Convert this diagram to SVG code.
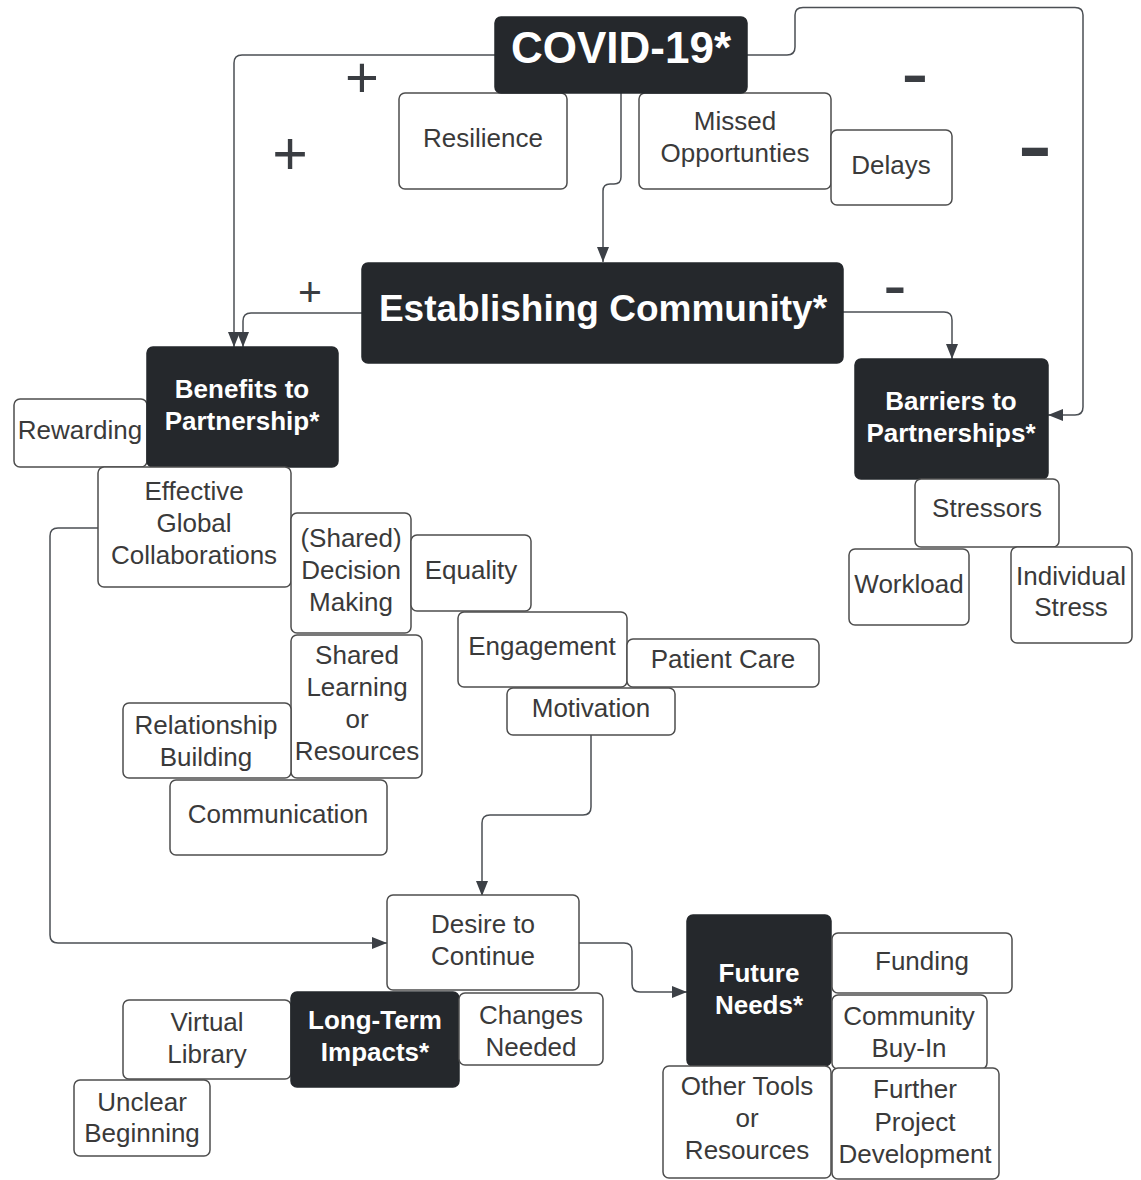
<svg xmlns="http://www.w3.org/2000/svg" width="1141" height="1180" viewBox="0 0 1141 1180">
<defs>
<marker id="arr" markerUnits="userSpaceOnUse" markerWidth="15" markerHeight="12" refX="15" refY="6" orient="auto">
<path d="M0,0 L15,6 L0,12 z" fill="#3c4046"/>
</marker>
<style>
.box{fill:#fff;stroke:#4d4d4d;stroke-width:1.5}
.dark{fill:#25282c;stroke:#25282c;stroke-width:1.5}
.t{font-family:"Liberation Sans",Arial,sans-serif;font-size:26px;fill:#3a3a3a;text-anchor:middle}
.w{font-family:"Liberation Sans",Arial,sans-serif;font-size:26px;font-weight:bold;fill:#fff;text-anchor:middle}
.big{font-size:44px}
.mid{font-size:37px}
.c{fill:none;stroke:#4b4f54;stroke-width:1.5}
.sign{font-family:"Liberation Sans",Arial,sans-serif;fill:#3a3d42;text-anchor:middle}
</style>
</defs>
<rect width="1141" height="1180" fill="#fff"/>
<g id="connectors">
<path class="c" d="M495,55 H242 Q234,55 234,63 V347" marker-end="url(#arr)"/>
<path class="c" d="M621,93 V177 Q621,184 614,184 H610 Q603,184 603,191 V262" marker-end="url(#arr)"/>
<path class="c" d="M747,55 H787 Q795,55 795,47 V15 Q795,7.5 803,7.5 H1075 Q1083,7.5 1083,15 V407 Q1083,415 1075,415 H1048" marker-end="url(#arr)"/>
<path class="c" d="M362,313 H251 Q243,313 243,321 V347" marker-end="url(#arr)"/>
<path class="c" d="M843,312 H944 Q952,312 952,320 V359" marker-end="url(#arr)"/>
<path class="c" d="M98,528 H58 Q50,528 50,536 V935 Q50,943 58,943 H387" marker-end="url(#arr)"/>
<path class="c" d="M591,735 V807 Q591,815 583,815 H490 Q482,815 482,823 V896" marker-end="url(#arr)"/>
<path class="c" d="M579,943 H624 Q632,943 632,951 V984 Q632,992 640,992 H687" marker-end="url(#arr)"/>
</g>
<g id="signs">
<text class="sign" x="362" y="97" style="font-size:58px">+</text>
<text class="sign" x="290" y="174" style="font-size:61px">+</text>
<text class="sign" x="310" y="306" style="font-size:41px">+</text>
<text class="sign" x="915" y="101" style="font-size:82px">-</text>
<text class="sign" x="1035" y="180" style="font-size:106px">-</text>
<text class="sign" x="895" y="309" style="font-size:70px">-</text>
</g>
<g id="resilience"><rect class="box" x="399" y="93" width="168" height="96" rx="6"/><text class="t" x="483" y="147">Resilience</text></g>
<g id="missed"><rect class="box" x="639" y="93" width="192" height="96" rx="6"/><text class="t" x="735" y="130">Missed</text><text class="t" x="735" y="162">Opportunties</text></g>
<g id="delays"><rect class="box" x="831" y="130" width="121" height="75" rx="6"/><text class="t" x="891" y="174">Delays</text></g>
<g id="covid"><rect class="dark" x="495" y="17" width="252" height="76" rx="6"/><text class="w big" x="621" y="63">COVID-19*</text></g>
<g id="establishing"><rect class="dark" x="362" y="263" width="481" height="100" rx="6"/><text class="w mid" x="603" y="321">Establishing Community*</text></g>
<g id="rewarding"><rect class="box" x="14" y="399" width="133" height="68" rx="6"/><text class="t" x="80" y="439">Rewarding</text></g>
<g id="benefits"><rect class="dark" x="147" y="347" width="191" height="120" rx="6"/><text class="w" x="242" y="398">Benefits to</text><text class="w" x="242" y="430">Partnership*</text></g>
<g id="barriers"><rect class="dark" x="855" y="359" width="193" height="120" rx="6"/><text class="w" x="951" y="410">Barriers to</text><text class="w" x="951" y="442">Partnerships*</text></g>
<g id="stressors"><rect class="box" x="915" y="479" width="144" height="68" rx="6"/><text class="t" x="987" y="517">Stressors</text></g>
<g id="workload"><rect class="box" x="849" y="549" width="120" height="76" rx="6"/><text class="t" x="909" y="593">Workload</text></g>
<g id="individual-stress"><rect class="box" x="1011" y="547" width="121" height="96" rx="6"/><text class="t" x="1071" y="585">Individual</text><text class="t" x="1071" y="616">Stress</text></g>
<g id="effective"><rect class="box" x="98" y="467" width="193" height="120" rx="6"/><text class="t" x="194" y="500">Effective</text><text class="t" x="194" y="532">Global</text><text class="t" x="194" y="564">Collaborations</text></g>
<g id="decision"><rect class="box" x="291" y="513" width="120" height="120" rx="6"/><text class="t" x="351" y="547">(Shared)</text><text class="t" x="351" y="579">Decision</text><text class="t" x="351" y="611">Making</text></g>
<g id="equality"><rect class="box" x="411" y="535" width="120" height="76" rx="6"/><text class="t" x="471" y="579">Equality</text></g>
<g id="engagement"><rect class="box" x="458" y="612" width="169" height="75" rx="6"/><text class="t" x="542" y="655">Engagement</text></g>
<g id="patient-care"><rect class="box" x="627" y="639" width="192" height="48" rx="6"/><text class="t" x="723" y="668">Patient Care</text></g>
<g id="motivation"><rect class="box" x="507" y="688" width="168" height="47" rx="6"/><text class="t" x="591" y="717">Motivation</text></g>
<g id="shared-learning"><rect class="box" x="291" y="635" width="131" height="143" rx="6"/><text class="t" x="357" y="664">Shared</text><text class="t" x="357" y="696">Learning</text><text class="t" x="357" y="728">or</text><text class="t" x="357" y="760">Resources</text></g>
<g id="relationship"><rect class="box" x="123" y="703" width="168" height="75" rx="6"/><text class="t" x="206" y="734">Relationship</text><text class="t" x="206" y="766">Building</text></g>
<g id="communication"><rect class="box" x="170" y="780" width="217" height="75" rx="6"/><text class="t" x="278" y="823">Communication</text></g>
<g id="desire"><rect class="box" x="387" y="895" width="192" height="95" rx="6"/><text class="t" x="483" y="933">Desire to</text><text class="t" x="483" y="965">Continue</text></g>
<g id="virtual-library"><rect class="box" x="123" y="1000" width="168" height="79" rx="6"/><text class="t" x="207" y="1031">Virtual</text><text class="t" x="207" y="1063">Library</text></g>
<g id="unclear"><rect class="box" x="74" y="1080" width="136" height="76" rx="6"/><text class="t" x="142" y="1111">Unclear</text><text class="t" x="142" y="1142">Beginning</text></g>
<g id="long-term"><rect class="dark" x="291" y="992" width="168" height="95" rx="6"/><text class="w" x="375" y="1029">Long-Term</text><text class="w" x="375" y="1061">Impacts*</text></g>
<g id="changes"><rect class="box" x="459" y="993" width="144" height="72" rx="6"/><text class="t" x="531" y="1024">Changes</text><text class="t" x="531" y="1056">Needed</text></g>
<g id="future"><rect class="dark" x="687" y="915" width="144" height="151" rx="6"/><text class="w" x="759" y="982">Future</text><text class="w" x="759" y="1014">Needs*</text></g>
<g id="funding"><rect class="box" x="832" y="933" width="180" height="60" rx="6"/><text class="t" x="922" y="970">Funding</text></g>
<g id="community-buy-in"><rect class="box" x="832" y="995" width="155" height="74" rx="6"/><text class="t" x="909" y="1025">Community</text><text class="t" x="909" y="1057">Buy-In</text></g>
<g id="other-tools"><rect class="box" x="663" y="1066" width="168" height="112" rx="6"/><text class="t" x="747" y="1095">Other Tools</text><text class="t" x="747" y="1127">or</text><text class="t" x="747" y="1159">Resources</text></g>
<g id="further"><rect class="box" x="832" y="1068" width="167" height="111" rx="6"/><text class="t" x="915" y="1098">Further</text><text class="t" x="915" y="1131">Project</text><text class="t" x="915" y="1163">Development</text></g>
</svg>
